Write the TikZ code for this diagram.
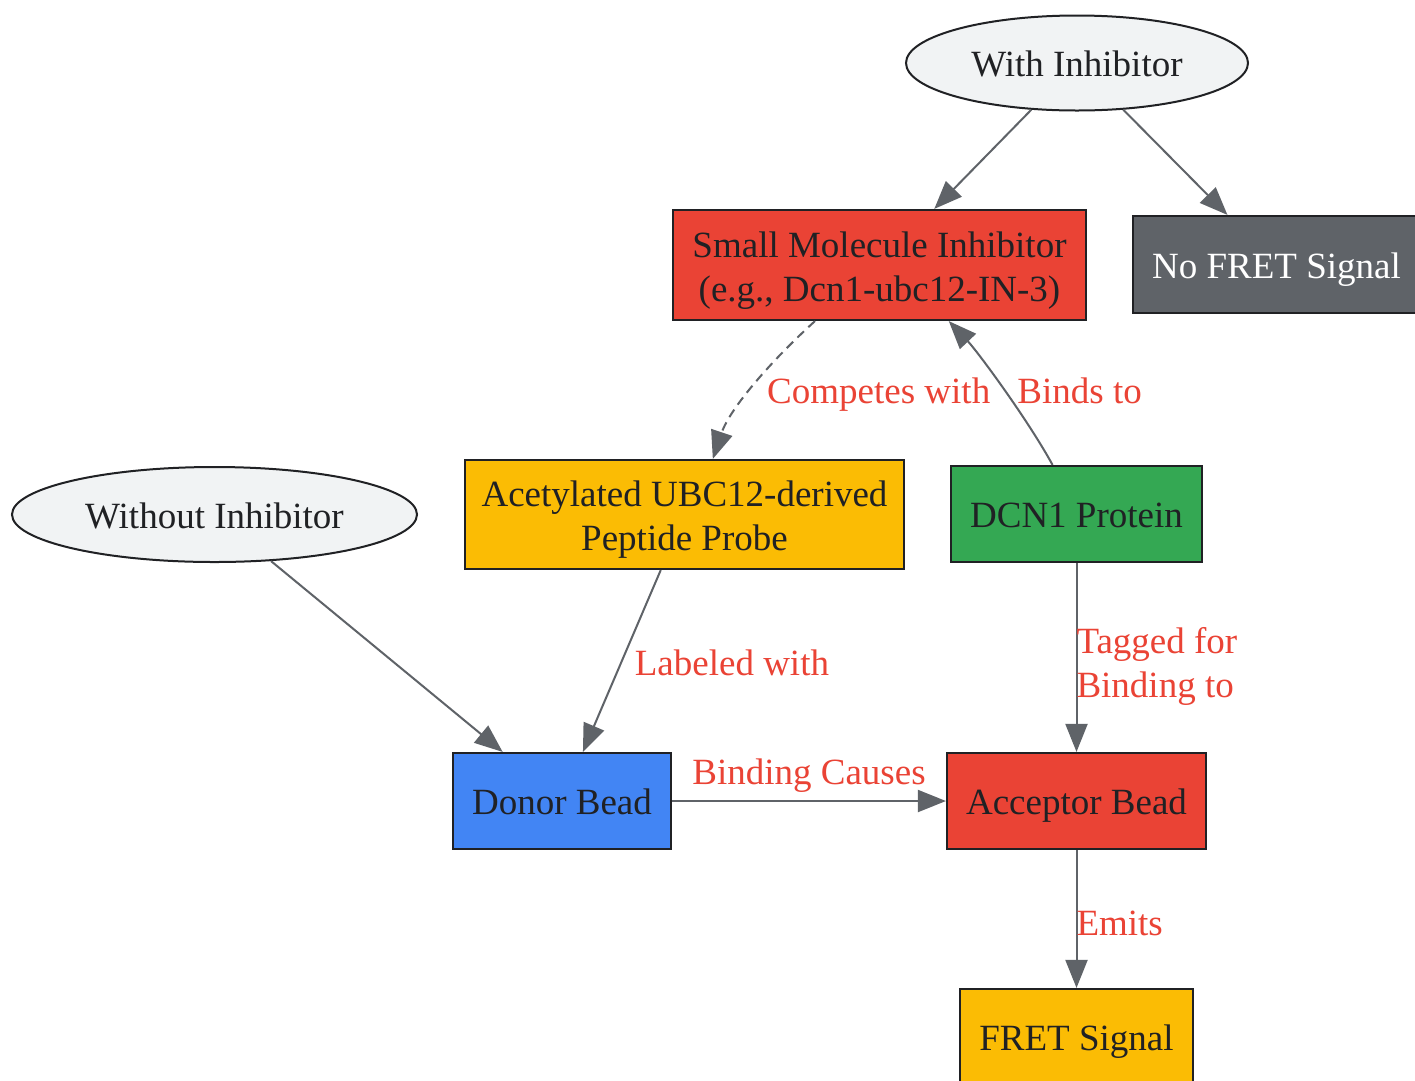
\documentclass[tikz,border=0pt]{standalone}
\usepackage{fontspec}
\setmainfont{Liberation Serif}
\usetikzlibrary{shapes.geometric,arrows.meta}
\definecolor{gred}{HTML}{EA4335}
\definecolor{gyellow}{HTML}{FBBC04}
\definecolor{ggreen}{HTML}{34A853}
\definecolor{gblue}{HTML}{4285F4}
\definecolor{ggray}{HTML}{5F6368}
\definecolor{glight}{HTML}{F1F3F4}
\definecolor{ink}{HTML}{202124}
\begin{document}
\begin{tikzpicture}[x=1pt,y=-1pt,
  txt/.style={font=\fontsize{37}{44}\selectfont},
  box/.style={txt, draw=ink, line width=2.2pt, inner sep=0pt, align=center, text=ink, text height=27pt, text depth=0pt},
  twoline/.style={text height=72pt, text depth=0pt},
  oval/.style={txt, ellipse, draw=ink, fill=glight, line width=2pt, inner sep=0pt, text=ink, text height=27pt, text depth=0pt},
  edge/.style={draw=ggray, line width=2pt, -{Triangle[length=28pt,width=22pt]}},
  lbl/.style={txt, text=gred, inner sep=0pt, align=left}]
\clip (0,0) rectangle (1415,1080);
\fill[white] (0,0) rectangle (1415,1080);
% nodes
\node[oval, minimum width=342pt, minimum height=95pt] (with) at (1077,63) {With Inhibitor};
\node[box, twoline, fill=gred, minimum width=413pt, minimum height=110pt] (smi) at (879.5,265) {Small Molecule Inhibitor\\(e.g., Dcn1-ubc12-IN-3)};
\node[box, fill=ggray, text=white, minimum width=287pt, minimum height=97pt] (nofret) at (1276.5,264.5) {No FRET Signal};
\node[box, twoline, fill=gyellow, minimum width=439pt, minimum height=109pt] (acet) at (684.5,514.5) {Acetylated UBC12-derived\\Peptide Probe};
\node[box, fill=ggreen, minimum width=251pt, minimum height=96pt] (dcn) at (1076.5,514) {DCN1 Protein};
\node[oval, minimum width=405pt, minimum height=95pt] (without) at (214.5,514.5) {Without Inhibitor};
\node[box, fill=gblue, minimum width=218pt, minimum height=96pt] (donor) at (562,801) {Donor Bead};
\node[box, fill=gred, minimum width=259pt, minimum height=96pt] (acc) at (1076.5,801) {Acceptor Bead};
\node[box, fill=gyellow, minimum width=233pt, minimum height=96pt] (fret) at (1076.5,1037) {FRET Signal};
% edges
\draw[edge] (with) -- (smi);
\draw[edge] (with) -- (nofret);
\draw[edge, dash pattern=on 9pt off 6pt] (smi.221) .. controls (772,360) and (730,408) .. (acet.63)
  node[lbl, pos=0.5, anchor=west, xshift=12pt, yshift=-9pt] {Competes with};
\draw[edge] (dcn.116) .. controls (1028,420) and (978,352) .. (smi.-39)
  node[lbl, pos=0.5, anchor=west, xshift=14pt, yshift=-3pt] {Binds to};
\draw[edge] (without) -- (donor);
\draw[edge] (acet) -- node[lbl, anchor=west, xshift=12pt, yshift=-2pt] {Labeled with} (donor);
\draw[edge] (dcn) -- node[lbl, anchor=west, xshift=-1pt, yshift=-9pt] {Tagged for\\Binding to} (acc);
\draw[edge] (donor) -- node[lbl, yshift=25pt] {Binding Causes} (acc);
\draw[edge] (acc) -- node[lbl, anchor=west, xshift=-1pt, yshift=-4pt] {Emits} (fret);
\end{tikzpicture}
\end{document}
